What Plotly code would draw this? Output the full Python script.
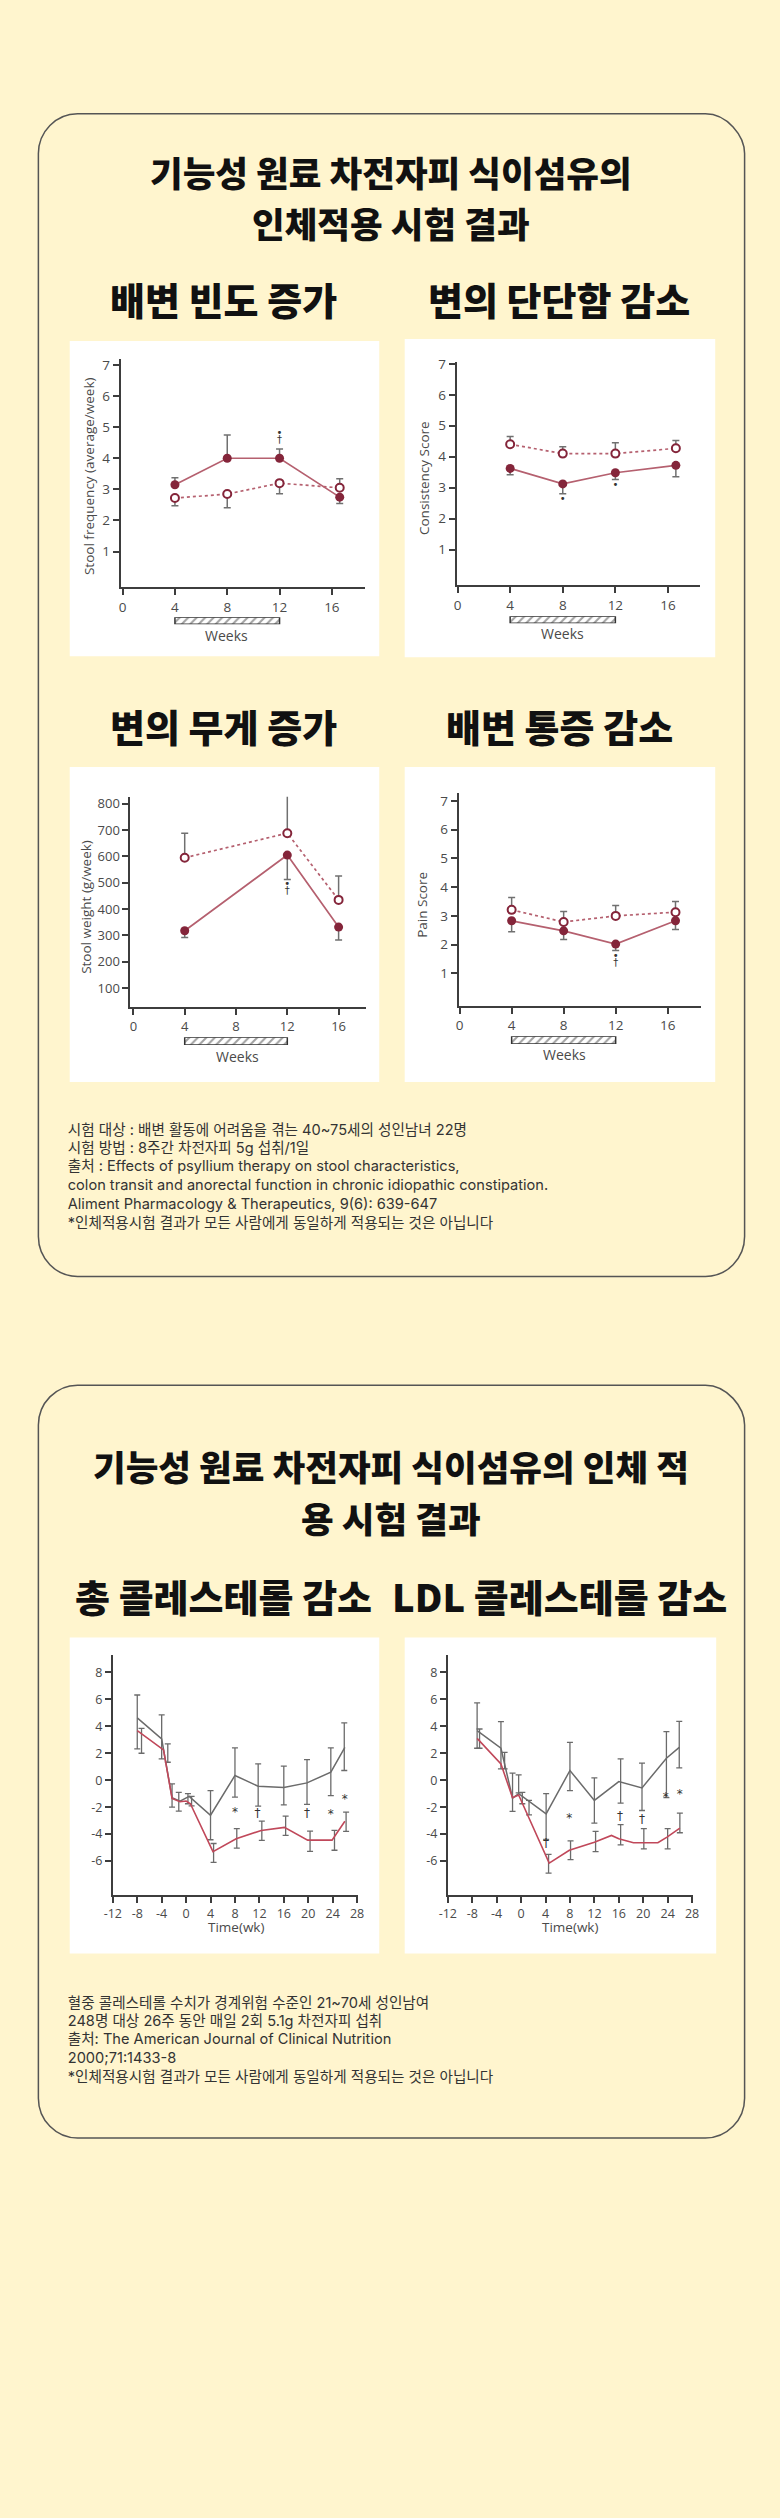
import plotly.graph_objects as go

W, H = 780, 2518
BG = '#FFF5CE'
INK = '#3d3d3d'
MAROON = '#84253a'
ROSE = '#b5606f'
ERR = '#707070'
CH_GRAY = '#6b6b6b'
CH_RED = '#c0485a'

# ---------------- data: stool charts ----------------
weeks = [4, 8, 12, 16.6]
treat_start, treat_end = 4, 12

freq_psyllium = [3.15, 4.0, 4.0, 2.75]
freq_psyllium_hi = [3.37, 4.75, 4.30, None]
freq_psyllium_lo = [None, None, None, 2.55]
freq_placebo = [2.72, 2.85, 3.2, 3.05]
freq_placebo_hi = [None, None, None, 3.34]
freq_placebo_lo = [2.47, 2.41, 2.86, None]

cons_psyllium = [3.62, 3.12, 3.48, 3.72]
cons_psyllium_lo = [3.42, 2.80, 3.26, 3.35]
cons_placebo = [4.40, 4.10, 4.10, 4.27]
cons_placebo_hi = [4.65, 4.32, 4.45, 4.52]

weeks_w = [4, 12, 16]
weight_psyllium = [318, 605, 332]
weight_psyllium_lo = [292, 512, 283]
weight_placebo = [595, 688, 435]
weight_placebo_hi = [688, 842, 526]

pain_psyllium = [2.83, 2.48, 2.02, 2.83]
pain_psyllium_lo = [2.45, 2.18, 1.80, 2.53]
pain_placebo = [3.21, 2.79, 3.00, 3.13]
pain_placebo_hi = [3.64, 3.15, 3.36, 3.50]

# significance marks (x, y, text)
freq_marks = [(12, 4.81, '•'), (12, 4.57, '†')]
cons_marks = [(8, 2.63, '•'), (12, 3.06, '•')]
weight_marks = [(12, 494, '•'), (12, 466, '†')]
pain_marks = [(12, 1.59, '•'), (12, 1.35, '†')]

# ---------------- data: cholesterol charts ----------------
chol_xticks = [-12, -8, -4, 0, 4, 8, 12, 16, 20, 24, 28]
chol_yticks = [-6, -4, -2, 0, 2, 4, 6, 8]

tc_time_placebo = [-8, -4, -2.3, -1.0, 0.5, 4, 8, 11.8, 16, 19.8, 23.7, 26]
tc_placebo = [4.62, 3.06, -1.3, -1.55, -1.2, -2.6, 0.35, -0.45, -0.55, -0.2, 0.6, 2.44]
tc_time_psyllium = [-8, -3.7, -2.3, -1.0, 0, 0.7, 4.4, 8.2, 12.3, 16.1, 19.9, 23.9, 26]
tc_psyllium = [3.68, 2.25, -1.35, -1.6, -1.55, -1.75, -5.3, -4.35, -3.73, -3.5, -4.45, -4.45, -3.05]
tc_err_placebo_x = [-8, -4, -2.3, 0.3, 4, 8, 11.8, 16, 19.8, 23.7, 25.9]
tc_err_placebo_hi = [6.32, 4.84, -0.27, -1.0, -0.77, 2.4, 1.21, 1.04, 1.53, 2.4, 4.25]
tc_err_placebo_lo = [2.32, 1.58, -2.0, -1.75, -4.42, -1.26, -1.93, -1.83, -1.8, -1.14, 0.72]
tc_err_psyllium_x = [-7.3, -3.0, -1.2, 0.9, 4.5, 8.3, 12.4, 16.3, 20.3, 24.3, 26.2]
tc_err_psyllium_hi = [3.85, 2.7, -0.9, -1.2, -4.7, -3.6, -3.04, -2.67, -3.78, -3.73, -2.37]
tc_err_psyllium_lo = [2.0, 1.33, -2.3, -1.9, -6.1, -5.04, -4.47, -4.1, -5.28, -5.2, -3.8]
tc_marks = [(8, -2.42, '*'), (11.7, -2.5, '†'), (19.8, -2.5, '†'), (23.7, -2.57, '*'), (26, -1.5, '*')]

ldl_time_placebo = [-7.2, -3.3, -1.4, -0.4, 4.1, 8.0, 12.0, 16.0, 19.8, 23.8, 25.9]
ldl_placebo = [3.68, 2.37, -1.33, -1.0, -2.5, 0.72, -1.5, -0.1, -0.57, 1.63, 2.44]
ldl_time_psyllium = [-7.2, -3.3, -1.4, -0.4, 4.6, 7.9, 12.0, 14.8, 16.0, 18.4, 22.4, 23.9, 26.0]
ldl_psyllium = [3.1, 1.2, -1.3, -1.1, -6.15, -5.2, -4.6, -4.1, -4.35, -4.64, -4.64, -4.22, -3.55]
ldl_err_placebo_x = [-7.2, -3.3, -1.4, -0.4, 4.1, 8.0, 12.0, 16.3, 19.8, 23.8, 25.9]
ldl_err_placebo_hi = [5.73, 4.35, 0.52, 0.4, -1.0, 2.8, 0.17, 1.58, 1.26, 3.6, 4.37]
ldl_err_placebo_lo = [2.37, 0.84, -2.32, -0.94, -4.4, -0.77, -3.19, -1.7, -2.25, -1.3, 0.91]
ldl_err_psyllium_x = [-6.8, -2.7, 0.2, 1.3, 4.5, 8.1, 12.2, 16.3, 20.1, 24.0, 26.0]
ldl_err_psyllium_hi = [3.8, 2.07, -0.9, -1.5, -5.5, -4.5, -3.8, -3.3, -3.6, -3.6, -2.45]
ldl_err_psyllium_lo = [2.37, 0.84, -1.75, -2.57, -6.9, -5.9, -5.3, -4.8, -5.1, -5.1, -3.9]
ldl_marks = [(7.9, -2.86, '*'), (16.2, -2.7, '†'), (19.8, -2.94, '†'), (23.7, -1.3, '*'),
             (26, -1.1, '*'), (4.1, -4.7, '†')]

# ---------------- texts ----------------
title_lines_1 = ['기능성 원료 차전자피 식이섬유의', '인체적용 시험 결과']
title_lines_2 = ['기능성 원료 차전자피 식이섬유의 인체 적', '용 시험 결과']
section_titles = ['배변 빈도 증가', '변의 단단함 감소', '변의 무게 증가', '배변 통증 감소',
                  '총 콜레스테롤 감소', 'LDL 콜레스테롤 감소']
axis_titles = ['Stool frequency (average/week)', 'Consistency Score', 'Stool weight (g/week)', 'Pain Score']
notes_1 = ['시험 대상 : 배변 활동에 어려움을 겪는 40~75세의 성인남녀 22명',
           '시험 방법 : 8주간 차전자피 5g 섭취/1일',
           '출처 : Effects of psyllium therapy on stool characteristics,',
           'colon transit and anorectal function in chronic idiopathic constipation.',
           'Aliment Pharmacology & Therapeutics, 9(6): 639-647',
           '*인체적용시험 결과가 모든 사람에게 동일하게 적용되는 것은 아닙니다']
notes_2 = ['혈중 콜레스테롤 수치가 경계위험 수준인 21~70세 성인남여',
           '248명 대상 26주 동안 매일 2회 5.1g 차전자피 섭취',
           '출처: The American Journal of Clinical Nutrition',
           '2000;71:1433-8',
           '*인체적용시험 결과가 모든 사람에게 동일하게 적용되는 것은 아닙니다']


def fx(p):
    return p / W


def fy(p):
    return 1 - p / H


def errs(vals, bounds, up=True):
    out = []
    for v, b in zip(vals, bounds):
        out.append(0 if b is None else (b - v if up else v - b))
    return out


fig = go.Figure()
layout = {}

CHART_FONT = 'Open Sans, Lato, sans-serif'
charts = [
    dict(n=1, xd=(114, 363), yd=(353, 582), xr=(-0.15, 18.5), yr=(-0.15, 7.19),
         xt=[0, 4, 8, 12, 16], yt=[1, 2, 3, 4, 5, 6, 7], fs=13.5),
    dict(n=2, xd=(457, 705), yd=(356, 580), xr=(-0.07, 18.4), yr=(-0.16, 7.06),
         xt=[0, 4, 8, 12, 16], yt=[1, 2, 3, 4, 5, 6, 7], fs=13.5),
    dict(n=3, xd=(124, 364), yd=(792, 1003), xr=(-0.23, 18.1), yr=(28, 826),
         xt=[0, 4, 8, 12, 16], yt=[100, 200, 300, 400, 500, 600, 700, 800], fs=13),
    dict(n=4, xd=(459, 707), yd=(788, 1002), xr=(-0.08, 18.6), yr=(-0.14, 7.28),
         xt=[0, 4, 8, 12, 16], yt=[1, 2, 3, 4, 5, 6, 7], fs=13.5),
    dict(n=5, xd=(106, 356), yd=(1653, 1893), xr=(-12, 28.1), yr=(-8.5, 9.26),
         xt=chol_xticks, yt=chol_yticks, fs=12.5),
    dict(n=6, xd=(448, 698), yd=(1653, 1893), xr=(-12, 28.1), yr=(-8.5, 9.26),
         xt=chol_xticks, yt=chol_yticks, fs=12.5),
]

for c in charts:
    n = c['n']
    sx = '' if n == 1 else str(n)
    common = dict(showline=True, linecolor=INK, linewidth=2, ticks='outside', ticklen=6,
                  tickwidth=1.5, tickcolor=INK, showgrid=False, zeroline=False,
                  tickfont=dict(family=CHART_FONT, size=c['fs'], color='#4a4a4a'), fixedrange=True)
    layout['xaxis' + sx] = dict(domain=[fx(c['xd'][0]), fx(c['xd'][1])], range=list(c['xr']),
                                tickvals=c['xt'], ticktext=[str(v) for v in c['xt']],
                                anchor='y' + sx, **common)
    layout['yaxis' + sx] = dict(domain=[fy(c['yd'][1]), fy(c['yd'][0])], range=list(c['yr']),
                                tickvals=c['yt'], ticktext=[str(v) for v in c['yt']],
                                anchor='x' + sx, **common)

# hatched treatment strips
strips = [(7, 0, (612, 619)), (8, 1, (611, 618)), (9, 2, (1033, 1041)), (10, 3, (1032, 1040))]
for n, ci, (y0, y1) in strips:
    c = charts[ci]
    layout['xaxis%d' % n] = dict(domain=[fx(c['xd'][0]), fx(c['xd'][1])], range=list(c['xr']),
                                 visible=False, anchor='y%d' % n, fixedrange=True)
    layout['yaxis%d' % n] = dict(domain=[fy(y1), fy(y0)], range=[-0.5, 0.5], visible=False,
                                 anchor='x%d' % n, fixedrange=True)
    fig.add_trace(go.Bar(orientation='h', x=[treat_end - treat_start], base=[treat_start], y=[0],
                         width=1, xaxis='x%d' % n, yaxis='y%d' % n, showlegend=False,
                         marker=dict(color='white', line=dict(color='#333333', width=1.5),
                                     pattern=dict(shape='/', fgcolor='#444444', size=6, solidity=0.35))))

# full-page overlay axis in pixel units for left-aligned notes
layout['xaxis11'] = dict(domain=[0, 1], range=[0, W], visible=False, anchor='y11', fixedrange=True)
layout['yaxis11'] = dict(domain=[0, 1], range=[H, 0], visible=False, anchor='x11', fixedrange=True)


def ax(n):
    s = '' if n == 1 else str(n)
    return 'x' + s, 'y' + s


def stool_pair(n, xs, fill, fill_up, fill_dn, opn, opn_up, opn_dn, marks):
    xa, ya = ax(n)
    fig.add_trace(go.Scatter(
        x=xs, y=opn, mode='lines+markers', xaxis=xa, yaxis=ya, showlegend=False,
        line=dict(color=ROSE, width=1.7, dash='dot'),
        marker=dict(symbol='circle', size=8, color='white', line=dict(color=MAROON, width=2)),
        error_y=dict(type='data', symmetric=False, array=opn_up, arrayminus=opn_dn,
                     color=ERR, thickness=1.5, width=3.5)))
    fig.add_trace(go.Scatter(
        x=xs, y=fill, mode='lines+markers', xaxis=xa, yaxis=ya, showlegend=False,
        line=dict(color=ROSE, width=1.7),
        marker=dict(symbol='circle', size=9, color=MAROON),
        error_y=dict(type='data', symmetric=False, array=fill_up, arrayminus=fill_dn,
                     color=ERR, thickness=1.5, width=3.5)))
    fig.add_trace(go.Scatter(
        x=[m[0] for m in marks], y=[m[1] for m in marks], text=[m[2] for m in marks],
        mode='text', xaxis=xa, yaxis=ya, showlegend=False,
        textfont=dict(family='DejaVu Sans', size=10, color='#333333')))


zeros4 = [0, 0, 0, 0]
zeros3 = [0, 0, 0]
stool_pair(1, weeks, freq_psyllium,
           errs(freq_psyllium, freq_psyllium_hi, True), errs(freq_psyllium, freq_psyllium_lo, False),
           freq_placebo,
           errs(freq_placebo, freq_placebo_hi, True), errs(freq_placebo, freq_placebo_lo, False),
           freq_marks)
stool_pair(2, weeks, cons_psyllium, zeros4, errs(cons_psyllium, cons_psyllium_lo, False),
           cons_placebo, errs(cons_placebo, cons_placebo_hi, True), zeros4, cons_marks)
stool_pair(3, weeks_w, weight_psyllium, zeros3, errs(weight_psyllium, weight_psyllium_lo, False),
           weight_placebo, errs(weight_placebo, weight_placebo_hi, True), zeros3, weight_marks)
stool_pair(4, weeks, pain_psyllium, zeros4, errs(pain_psyllium, pain_psyllium_lo, False),
           pain_placebo, errs(pain_placebo, pain_placebo_hi, True), zeros4, pain_marks)


def chol(n, tp, vp, ts, vs, epx, eph, epl, esx, esh, esl, marks):
    xa, ya = ax(n)
    for ex, eh, el in [(epx, eph, epl), (esx, esh, esl)]:
        mid = [(a + b) / 2 for a, b in zip(eh, el)]
        half = [(a - b) / 2 for a, b in zip(eh, el)]
        fig.add_trace(go.Scatter(
            x=ex, y=mid, mode='markers', xaxis=xa, yaxis=ya, showlegend=False,
            marker=dict(size=1, opacity=0),
            error_y=dict(type='data', array=half, color=CH_GRAY, thickness=1.3, width=3)))
    fig.add_trace(go.Scatter(x=tp, y=vp, mode='lines', xaxis=xa, yaxis=ya, showlegend=False,
                             line=dict(color=CH_GRAY, width=1.5)))
    fig.add_trace(go.Scatter(x=ts, y=vs, mode='lines', xaxis=xa, yaxis=ya, showlegend=False,
                             line=dict(color=CH_RED, width=1.6)))
    fig.add_trace(go.Scatter(
        x=[m[0] for m in marks], y=[m[1] for m in marks], text=[m[2] for m in marks],
        mode='text', xaxis=xa, yaxis=ya, showlegend=False,
        textfont=dict(family='DejaVu Sans', size=12, color='#333333')))


chol(5, tc_time_placebo, tc_placebo, tc_time_psyllium, tc_psyllium,
     tc_err_placebo_x, tc_err_placebo_hi, tc_err_placebo_lo,
     tc_err_psyllium_x, tc_err_psyllium_hi, tc_err_psyllium_lo, tc_marks)
chol(6, ldl_time_placebo, ldl_placebo, ldl_time_psyllium, ldl_psyllium,
     ldl_err_placebo_x, ldl_err_placebo_hi, ldl_err_placebo_lo,
     ldl_err_psyllium_x, ldl_err_psyllium_hi, ldl_err_psyllium_lo, ldl_marks)

# notes as left-anchored text
NOTE_FONT = 'Inter, Noto Sans CJK KR, sans-serif'
note_y = [1127, 1146, 1164, 1183, 1202, 1221] + [2003, 2021, 2039, 2058, 2077]
fig.add_trace(go.Scatter(
    x=[60] * len(note_y), y=note_y, text=notes_1 + notes_2, mode='text',
    textposition='middle right', xaxis='x11', yaxis='y11', showlegend=False,
    textfont=dict(family=NOTE_FONT, size=14.6, color='#333333')))

# ---------------- shapes ----------------
shapes = []


def card(x0, y0, x1, y1, r):
    rx, ry = r / W, r / H
    X0, X1 = fx(x0), fx(x1)
    Y0, Y1 = fy(y0), fy(y1)
    k = 0.45
    path = (f'M {X0+rx},{Y0} L {X1-rx},{Y0} C {X1-rx*k},{Y0} {X1},{Y0-ry*(1-k)} {X1},{Y0-ry} '
            f'L {X1},{Y1+ry} C {X1},{Y1+ry*k} {X1-rx*k},{Y1} {X1-rx},{Y1} '
            f'L {X0+rx},{Y1} C {X0+rx*k},{Y1} {X0},{Y1+ry*k} {X0},{Y1+ry} '
            f'L {X0},{Y0-ry} C {X0},{Y0-ry*k} {X0+rx*k},{Y0} {X0+rx},{Y0} Z')
    return dict(type='path', xref='paper', yref='paper', path=path, layer='below',
                line=dict(color='#555555', width=1.5), fillcolor=BG)


shapes.append(card(30, 107, 751, 1273, 40))
shapes.append(card(30, 1382, 751, 2137, 40))
boxes = [(62, 335, 378, 651), (404, 333, 721, 652), (62, 762, 378, 1078), (404, 762, 721, 1078),
         (62, 1635, 378, 1952), (404, 1635, 722, 1952)]
for (x0, y0, x1, y1) in boxes:
    shapes.append(dict(type='rect', xref='paper', yref='paper', x0=fx(x0), x1=fx(x1),
                       y0=fy(y1), y1=fy(y0), layer='below', line=dict(width=0), fillcolor='white'))

# ---------------- annotations ----------------
ann = []
KR_BOLD = 'Noto Sans CJK KR'


def txt(x, y, s, size, color='#111111', family=KR_BOLD, weight=900, angle=0):
    ann.append(dict(x=fx(x), y=fy(y), xref='paper', yref='paper', showarrow=False,
                    text=s, xanchor='center', yanchor='middle', textangle=angle,
                    font=dict(family=family, size=size, color=color, weight=weight)))


for s, y in zip(title_lines_1, [164.5, 216.5]):
    txt(390, y, s, 35.5)
for s, y in zip(title_lines_2, [1462.5, 1514.5]):
    txt(390, y, s, 35.5)
sec_pos = [(219, 292), (562, 292), (219, 721), (562, 721), (219, 1593), (562, 1593)]
for s, (x, y) in zip(section_titles, sec_pos):
    txt(x, y, s, 38)

axt_pos = [(81, 470), (423, 472), (79, 902), (422, 900)]
for s, (x, y) in zip(axis_titles, axt_pos):
    txt(x, y, s, 13.5, color='#4a4a4a', family=CHART_FONT, weight=400, angle=-90)
for (x, y) in [(222, 630), (565, 628), (233, 1052), (567, 1050)]:
    txt(x, y, 'Weeks', 14, color='#4a4a4a', family=CHART_FONT, weight=400)
for (x, y) in [(232, 1925), (573, 1925)]:
    txt(x, y, 'Time(wk)', 13.5, color='#4a4a4a', family=CHART_FONT, weight=400)

fig.update_layout(width=W, height=H, margin=dict(l=0, r=0, t=0, b=0), paper_bgcolor=BG,
                  plot_bgcolor='rgba(0,0,0,0)', showlegend=False, shapes=shapes, annotations=ann,
                  **layout)
fig.write_html('out.html', config={'displayModeBar': False})
